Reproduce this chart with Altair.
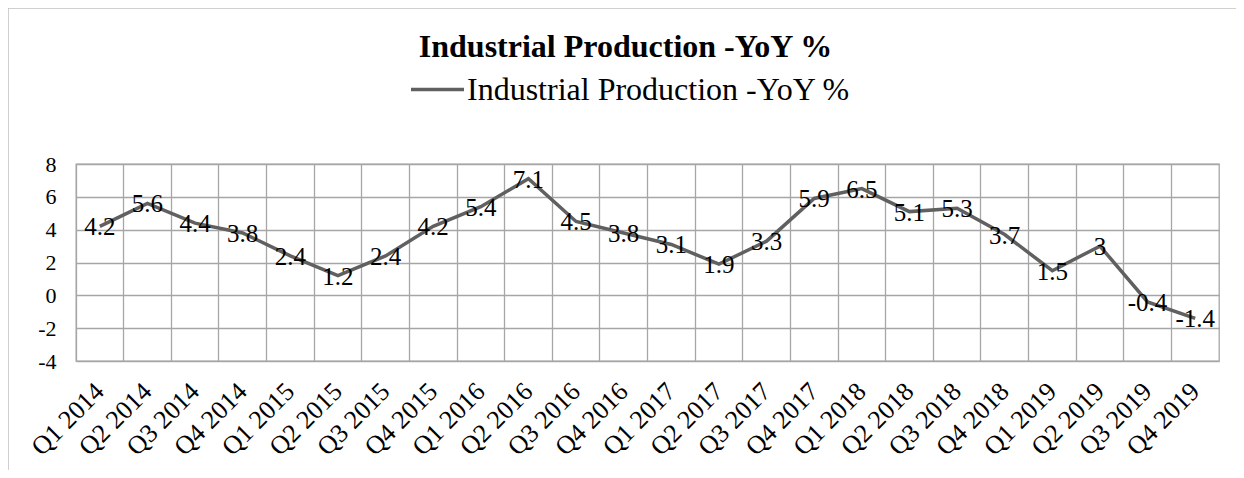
import altair as alt
import pandas as pd

quarters = ["Q1 2014", "Q2 2014", "Q3 2014", "Q4 2014",
            "Q1 2015", "Q2 2015", "Q3 2015", "Q4 2015",
            "Q1 2016", "Q2 2016", "Q3 2016", "Q4 2016",
            "Q1 2017", "Q2 2017", "Q3 2017", "Q4 2017",
            "Q1 2018", "Q2 2018", "Q3 2018", "Q4 2018",
            "Q1 2019", "Q2 2019", "Q3 2019", "Q4 2019"]
values = [4.2, 5.6, 4.4, 3.8, 2.4, 1.2, 2.4, 4.2, 5.4, 7.1, 4.5, 3.8,
          3.1, 1.9, 3.3, 5.9, 6.5, 5.1, 5.3, 3.7, 1.5, 3, -0.4, -1.4]
y_ticks = [-4, -2, 0, 2, 4, 6, 8]
series_name = "Industrial Production -YoY %"
chart_title = "Industrial Production -YoY %"

df = pd.DataFrame({
    "q": quarters,
    "v": values,
    "lbl": [f"{v:g}" for v in values],
    "s": [series_name] * len(quarters),
})

FONT = "Liberation Serif"
GRID = "#a6a6a6"
LINE = "#606060"

xscale = alt.Scale(type="band", paddingInner=0, paddingOuter=0)
yscale = alt.Scale(domain=[y_ticks[0], y_ticks[-1]], nice=False, zero=False)

yaxis = alt.Axis(values=y_ticks, grid=True, gridColor=GRID, gridWidth=1.3,
                 domain=False, ticks=False, title=None,
                 labelFont=FONT, labelFontSize=22, labelColor="black",
                 labelPadding=20, labelOverlap=False, labelFlush=False,
                 labelBound=False, labelExpr="toString(datum.value)")

base = alt.Chart(df)

line = base.mark_line(strokeWidth=3.5, color=LINE).encode(
    x=alt.X("q:N", sort=quarters, scale=xscale, bandPosition=0.5,
            axis=alt.Axis(orient="top", grid=True, bandPosition=0, labels=False,
                          ticks=False, domain=False, title=None,
                          gridColor=GRID, gridWidth=1.3)),
    y=alt.Y("v:Q", scale=yscale, axis=yaxis),
    color=alt.Color("s:N", scale=alt.Scale(domain=[series_name], range=[LINE]),
                    legend=alt.Legend(orient="none", legendX=333, legendY=-103,
                                      title=None, symbolType="stroke",
                                      symbolSize=2809, symbolStrokeWidth=3.5,
                                      symbolStrokeColor=LINE,
                                      labelFont=FONT, labelFontSize=32,
                                      labelColor="black", labelOffset=1,
                                      labelLimit=0, padding=0)),
)

labels = base.mark_text(font=FONT, fontSize=25, color="black",
                        baseline="middle", align="center", dy=1).encode(
    x=alt.X("q:N", sort=quarters, scale=xscale, bandPosition=0.5,
            axis=alt.Axis(orient="bottom", grid=False, ticks=False, domain=False,
                          title=None, labelAngle=-45, labelAlign="right",
                          labelBaseline="middle", labelFont=FONT,
                          labelFontSize=26, labelColor="black",
                          labelPadding=26, labelOverlap=False)),
    y=alt.Y("v:Q", scale=yscale, axis=yaxis),
    text="lbl:N",
)

frame_data = alt.Data(values=[{"k": 1}])
frame_left = alt.Chart(frame_data).mark_rule(color="#c0c0c0", strokeWidth=1.5).encode(
    x=alt.value(-68), y=alt.value(-156), y2=alt.value(320))
frame_top = alt.Chart(frame_data).mark_rule(color="#c0c0c0", strokeWidth=1.5).encode(
    x=alt.value(-68), x2=alt.value(1160), y=alt.value(-156))

chart = alt.layer(line, labels, frame_left, frame_top).resolve_axis(
    x="independent"
).properties(
    width=1143, height=197,
    padding={"left": 68, "top": 156, "right": 17, "bottom": 109},
    autosize=alt.AutoSizeParams(type="none"),
    title=alt.TitleParams(chart_title, font=FONT, fontSize=32, fontWeight="bold",
                          color="black", anchor="middle", frame="group",
                          baseline="alphabetic", offset=-82, dx=-22),
).configure_view(stroke=GRID, strokeWidth=1.3).configure_axisY(labelOverlap=False)

chart.save("out.html", embed_options={"renderer": "svg", "actions": False})
